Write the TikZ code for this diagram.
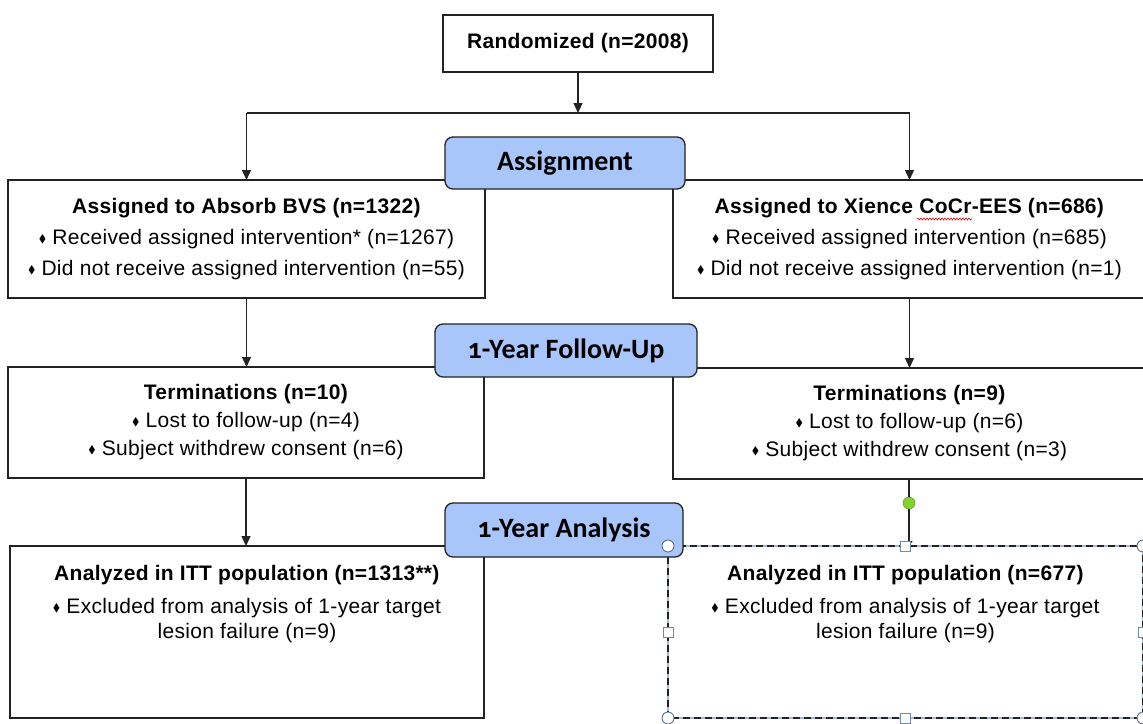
\documentclass[tikz,border=0pt]{standalone}
\usepackage{amssymb}
\usepackage{fontspec}
\setmainfont[LetterSpace=1.5]{Liberation Sans}
\newfontfamily\stagefont[Numbers=OldStyle]{Carlito}
\usetikzlibrary{arrows.meta,positioning,decorations.pathmorphing}
\definecolor{stageblue}{RGB}{168,198,250}
\definecolor{boxline}{RGB}{35,35,35}
\definecolor{handleline}{RGB}{110,140,175}
\definecolor{gripgreen}{RGB}{130,210,50}
\newcommand{\bul}{\raisebox{2pt}{\fontsize{11}{11}\selectfont$\blacklozenge$}\ }
\begin{document}
\begin{tikzpicture}[x=1pt,y=-1pt,
    box/.style={draw=boxline, line width=1.3pt, inner sep=0pt, outer sep=0pt, align=center,
        font=\fontsize{21}{31}\selectfont},
    boxtext/.style={inner sep=0pt, align=center, font=\fontsize{21}{31}\selectfont},
    stage/.style={draw=boxline, fill=stageblue, line width=1.3pt, rounded corners=8pt,
        inner sep=0pt, font=\stagefont\bfseries\fontsize{28}{28}\selectfont},
    arr/.style={draw=boxline, line width=1.3pt, -{Triangle[length=10pt,width=9pt]}},
    handlesq/.style={draw=handleline, fill=white, line width=0.8pt, minimum size=10pt, inner sep=0pt}]
% page size
\useasboundingbox (0,0) rectangle (1143,723);
\fill[white] (0,0) rectangle (1143,723);

% boxes
\node[box, minimum width=270, minimum height=57] (rand) at (578,43.5) {\bfseries Randomized (n=2008)};
\node[box, minimum width=477, minimum height=118] (absorb) at (246.5,239)
    {\textbf{Assigned to Absorb BVS (n=1322)}\\
     \bul Received assigned intervention* (n=1267)\\
     \bul Did not receive assigned intervention (n=55)};
\node[box, minimum width=473, minimum height=118] (xience) at (909.5,239)
    {\textbf{Assigned to Xience CoCr-EES (n=686)}\\
     \bul Received assigned intervention (n=685)\\
     \bul Did not receive assigned intervention (n=1)};
\node[box, font=\fontsize{21}{28}\selectfont, minimum width=476, minimum height=111] (termL) at (246,422.5)
    {\textbf{Terminations (n=10)}\\
     \bul Lost to follow-up (n=4)\\
     \bul Subject withdrew consent (n=6)};
\node[box, font=\fontsize{21}{28}\selectfont, minimum width=473, minimum height=111] (termR) at (909.5,423.5)
    {\textbf{Terminations (n=9)}\\
     \bul Lost to follow-up (n=6)\\
     \bul Subject withdrew consent (n=3)};
\node[box, minimum width=474, minimum height=172] (analL) at (247,632) {};
\node[boxtext, below=19pt of analL.north] (analLtxt)
    {\textbf{Analyzed in ITT population (n=1313**)}\\[2pt]
     \bul Excluded from analysis of 1-year target\\[-6pt]
     lesion failure (n=9)};

% selected box on the right (dashed frame)
\node[inner sep=0pt, outer sep=0pt, minimum width=475, minimum height=172] (analR) at (905.5,632) {};
\draw[draw=handleline!60, line width=2.2pt] (analR.north west) rectangle (analR.south east);
\draw[draw=boxline, line width=1.3pt, dash pattern=on 7pt off 4pt] (analR.north west) rectangle (analR.south east);
\node[boxtext, below=19pt of analR.north] (analRtxt)
    {\textbf{Analyzed in ITT population (n=677)}\\[2pt]
     \bul Excluded from analysis of 1-year target\\[-6pt]
     lesion failure (n=9)};

% spell check mark
\draw[red!85!black, line width=0.6pt, decorate, decoration={snake, amplitude=0.9pt, segment length=3pt}]
    (917,219) -- (972,219);

% connectors
\coordinate (split) at (578,113);
\draw[arr] (rand.south) -- (split);
\draw[draw=boxline, line width=1.3pt] (absorb.north |- split) -- (xience.north |- split);
\draw[arr] (absorb.north |- split) -- (absorb.north);
\draw[arr] (xience.north |- split) -- (xience.north);
\draw[arr] (absorb.south) -- (absorb.south |- termL.north);
\draw[arr] (xience.south) -- (xience.south |- termR.north);
\draw[arr] (termL.south) -- (termL.south |- analL.north);
\node[circle, fill=gripgreen, draw=gripgreen!70!black, line width=0.5pt, minimum size=12pt, inner sep=0pt] (grip) at (909,503) {};
\draw[draw=boxline, line width=1.3pt] (termR.south -| grip) -- (grip);
\draw[draw=boxline, line width=1.3pt, -{Triangle[length=5pt,width=7pt]}] (grip) -- (grip |- analR.north);

% stage labels
\node[stage, minimum width=240, minimum height=52] (assign) at (565,163) {Assignment};
\node[stage, minimum width=262, minimum height=53] (follow) at (566,350.5) {1-Year Follow-Up};
\node[stage, minimum width=238, minimum height=54] (analysis) at (564,530) {1-Year Analysis};

% handles of the selected box
\foreach \a in {north west, north east, south west, south east}
    \draw[draw=handleline!70!black, fill=white, line width=0.8pt] (analR.\a) circle (6);
\foreach \a/\n in {north/hn, south/hs, west/hw, east/he}
    \node[handlesq] (\n) at (analR.\a) {};
\end{tikzpicture}
\end{document}
